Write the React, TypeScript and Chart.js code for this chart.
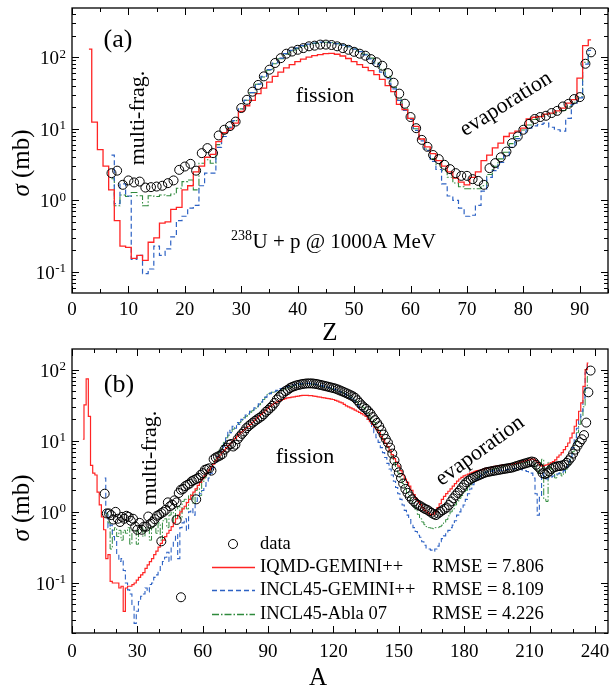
import React, { useEffect, useRef } from 'react';
import { Chart, registerables } from 'chart.js';

Chart.register(...registerables);

const SERIF = '"Liberation Serif", "Times New Roman", serif';
const RED = '#ff2424';
const BLUE = '#2d62c4';
const GREEN = '#2f8a3c';

// ---------------- Panel (a): cross section vs Z ----------------
const Z_DATA_START = 7;
const zData = [
  2.4, 2.6, 1.65, 1.9, 1.78, 1.83, 1.51, 1.53, 1.56, 1.6,
  1.74, 1.9, 2.67, 2.97, 3.24, 2.6, 4.57, 5.37, 4.57, 8.07,
  9.7, 10.9, 12.6, 19.5, 25.4, 33, 41, 54, 67, 83,
  97, 112, 120, 127, 134, 142, 145, 150, 150, 148,
  142, 134, 127, 119, 112, 105, 94, 85, 76, 60,
  44, 31, 22.4, 14.6, 10.2, 7.0, 5.6, 4.3, 3.77, 3.14,
  2.73, 2.4, 2.2, 2.2, 1.98, 1.87, 1.65, 2.82, 3.31, 4.0,
  4.8, 6.3, 7.8, 9.7, 11.7, 13.7, 14.6, 15.2, 16.6, 17.8,
  20.5, 22.3, 26, 27.7, 81, 117,
];
const Z_IQMD_START = 3;
const zIqmd = [
  130, 12.4, 5.1, 3.0, 1.4, 0.52, 0.23, 0.22, 0.155, 0.17,
  0.145, 0.26, 0.3, 0.48, 0.5, 0.75, 0.8, 1.4, 1.6, 2.5,
  3.0, 4.0, 4.4, 6.6, 8.8, 10, 12, 17.5, 21, 25,
  31, 37, 45, 54, 62, 71, 79, 87, 94, 100,
  105, 109, 112, 113, 110, 104, 96, 87, 79, 72,
  65, 57, 49, 40, 33, 22, 18.5, 14, 10.8, 7.2,
  5.6, 4.5, 3.6, 3.0, 2.5, 2.05, 1.8, 1.65, 2.1, 2.5,
  3.6, 4.3, 5.4, 6.3, 7.8, 8.7, 9.3, 10.2, 13.7, 14.5,
  14.8, 16, 16.5, 17.8, 19.4, 22.8, 25.5, 51, 145, 175,
];
const Z_INCLG_START = 7;
const zInclGemini = [
  4.3, 0.9, 1.7, 1.15, 0.15, 0.17, 0.095, 0.11, 0.23, 0.17,
  0.21, 0.31, 0.52, 0.6, 0.78, 0.85, 1.6, 2.4, 2.4, 5.5,
  7.8, 10.5, 13, 19, 25, 32, 42, 54, 67, 83,
  97, 112, 125, 135, 145, 152, 158, 162, 163, 160,
  155, 148, 140, 130, 120, 108, 95, 80, 62, 50,
  36, 25, 18, 13.5, 9.5, 6.8, 5.0, 3.5, 2.7, 1.7,
  1.15, 1.0, 0.78, 0.6, 0.62, 0.85, 1.35, 2.1, 2.6, 3.4,
  4.2, 5.5, 7.3, 9.0, 10.2, 11, 11.5, 12, 10.5, 9.7,
  9.3, 14, 22, 27, 80, 125,
];
const Z_ABLA_START = 7;
const zInclAbla = [
  2.0, 0.84, 1.19, 1.13, 1.29, 1.16, 0.84, 1.16, 1.13, 1.19,
  1.16, 1.23, 1.48, 1.83, 1.93, 1.4, 3.3, 3.7, 3.3, 6.0,
  8.5, 10.5, 13, 19, 25, 32, 42, 53, 66, 81,
  95, 110, 122, 132, 142, 150, 156, 160, 162, 160,
  155, 148, 140, 131, 121, 110, 97, 83, 68, 54,
  38, 26, 19, 14, 10, 7.2, 5.2, 3.8, 3.2, 2.6,
  2.1, 1.75, 1.55, 1.45, 1.45, 1.45, 1.6, 2.3, 3.0, 3.8,
  4.7, 6.2, 7.8, 9.6, 11.3, 13.5, 15, 15.8, 16.3, 17,
  18, 20.5, 23.5, 28, 85, 110,
];

// ---------------- Panel (b): cross section vs A ----------------
const A_DATA_START = 15;
const aData = [
  1.8, 0.95, 0.95, 0.9, 0.78, 1.0, 0.8, 0.72, 0.85, 0.8,
  0.88, 0.85, 0.75, 0.8, 0.62, 0.56, 0.7, 0.56, 0.62, 0.62,
  0.86, 0.68, 0.72, 0.79, 0.88, 0.91, 0.96, 1.0, 1.07, 1.36,
  1.2, 1.26, 1.45, 1.36, 1.84, 2.05, 2.1, 2.3, 2.4, 2.5,
  2.7, 2.8, 2.9, 3.0, 3.3, 3.5, 3.9, 4.0, 4.1, 3.8,
  5.5, 5.8, 6.0, 6.2, 6.5, 7.5, 8.0, 8.8, 9.0, 8.3,
  8.8, 10.5, 11.5, 12.5, 13.5, 15, 16, 17, 18, 19,
  20, 21, 22, 23.5, 25.5, 27, 29, 31, 34, 38,
  41, 44, 47, 50, 52, 55, 57, 58.5, 60, 61,
  62, 63, 63.5, 64, 64, 64, 63.5, 63, 62, 61,
  60, 59, 58, 57, 56, 55, 54, 52.5, 51, 49.5,
  48, 46.5, 45, 43.5, 42, 40, 37, 34, 31.5, 29.5,
  28, 26, 24, 21.5, 19.5, 17.8, 16, 14, 12.2, 10.6,
  9.4, 8.0, 6.6, 5.3, 4.3, 3.6, 3.0, 2.5, 2.1, 1.85,
  1.65, 1.5, 1.4, 1.3, 1.25, 1.2, 1.15, 1.1, 1.07, 1.02,
  0.97, 0.93, 0.9, 0.95, 1.0, 1.05, 1.1, 1.15, 1.25, 1.4,
  1.55, 1.7, 1.85, 2.0, 2.2, 2.4, 2.6, 2.75, 2.9, 3.0,
  3.1, 3.2, 3.3, 3.4, 3.5, 3.6, 3.65, 3.7, 3.75, 3.8,
  3.85, 3.9, 3.95, 4.0, 4.05, 4.1, 4.15, 4.2, 4.3, 4.4,
  4.5, 4.6, 4.7, 4.8, 4.9, 5.0, 5.1, 5.0, 4.6, 4.3,
  4.0, 3.5, 3.4, 3.5, 3.7, 4.0, 4.2, 4.3, 4.4, 4.4,
  4.5, 4.6, 4.9, 5.3, 5.8, 6.6, 7.5, 8.5, 9.5, 10.5,
  12, 18, 48, 97,
];
const aOutlierA = [41, 48, 50, 57];
const aOutlierS = [0.385, 0.77, 0.063, 1.5];

const A_IQMD_START = 5;
const aIqmd = [
  10.5, 32, 74, 22, 4.5, 3.5, 3.3, 1.9, 1.25, 0.85,
  0.56, 0.22, 0.25, 0.105, 0.1, 0.1, 0.1, 0.085, 0.09, 0.04,
  0.085, 0.09, 0.09, 0.095, 0.1, 0.11, 0.12, 0.13, 0.14, 0.16,
  0.18, 0.2, 0.22, 0.25, 0.28, 0.32, 0.36, 0.4, 0.45, 0.5,
  0.55, 0.62, 0.7, 0.8, 0.9, 1.0, 1.1, 1.2, 1.35, 1.5,
  1.7, 1.9, 2.1, 2.35, 2.6, 2.9, 3.2, 3.5, 3.9, 4.3,
  4.7, 5.2, 5.8, 6.3, 6.9, 7.4, 8.0, 8.6, 9.3, 10,
  10.8, 11.6, 12.5, 13.3, 14.2, 15, 16, 17, 18.2, 19.5,
  21, 22.3, 23.5, 25, 27, 29, 30.5, 32, 33.5, 35,
  36, 37, 38, 39, 40, 40.5, 41, 41.5, 42, 42.5,
  43, 43.5, 43.5, 43.5, 43, 43, 42.5, 42, 41.5, 41,
  40.5, 40, 39.5, 39, 38.5, 38, 37, 36, 35, 34,
  32.5, 31, 30, 29, 28, 27, 26, 25, 24, 23,
  22, 20, 18.5, 17, 15.5, 14.3, 13, 11.5, 10.3, 9.2,
  8.3, 7.3, 6.4, 5.6, 5.0, 4.4, 3.8, 3.3, 2.9, 2.6,
  2.3, 2.0, 1.75, 1.55, 1.4, 1.27, 1.15, 1.05, 0.98, 0.93,
  0.91, 0.93, 1.0, 1.15, 1.3, 1.5, 1.65, 1.8, 1.95, 2.1,
  2.3, 2.5, 2.7, 2.9, 3.05, 3.2, 3.3, 3.4, 3.5, 3.6,
  3.7, 3.8, 3.85, 3.9, 4.0, 4.1, 4.15, 4.2, 4.3, 4.35,
  4.4, 4.45, 4.5, 4.55, 4.6, 4.6, 4.65, 4.7, 4.75, 4.8,
  4.9, 5.0, 5.1, 5.2, 5.3, 5.4, 5.5, 5.5, 5.2, 4.9,
  4.5, 4.4, 4.5, 4.6, 4.7, 4.9, 5.1, 5.4, 5.9, 6.3,
  6.8, 7.5, 8.3, 9.3, 11, 12.8, 16, 19.7, 26, 34,
  58, 100, 124,
];
const A_INCLG_START = 15;
const aInclGemini = [
  3.0, 0.9, 0.6, 0.65, 0.45, 0.4, 0.25, 0.2, 0.22, 0.15,
  0.1, 0.08, 0.07, 0.05, 0.027, 0.04, 0.055, 0.065, 0.07, 0.085,
  0.075, 0.095, 0.1, 0.12, 0.13, 0.15, 0.17, 0.2, 0.23, 0.27,
  0.2, 0.33, 0.4, 0.48, 0.22, 0.6, 0.7, 0.8, 0.55, 1.0,
  1.1, 0.9, 1.4, 1.6, 1.8, 2.0, 2.3, 2.7, 3.0, 3.5,
  4.2, 5.0, 6.0, 7.0, 8.0, 9.5, 11, 14, 13, 16,
  15, 18, 17, 20, 21, 23, 24, 26, 27, 29,
  30, 33, 35, 38, 41, 45, 46, 48, 49, 51,
  52, 54, 55, 57, 58, 59, 60, 61, 62, 62.5,
  63, 63.5, 64, 64, 64, 63.5, 63, 62, 61, 60,
  59, 58, 57, 56, 55, 53.5, 52, 50.5, 49, 47.5,
  46, 44, 42, 40, 37.5, 35, 32, 29, 27, 25,
  23, 20, 17.5, 15, 13, 11, 9.5, 8, 6.8, 5.8,
  4.8, 4.0, 3.3, 2.7, 2.2, 1.8, 1.5, 1.25, 1.05, 0.9,
  0.78, 0.68, 0.6, 0.53, 0.47, 0.44, 0.38, 0.34, 0.31, 0.3,
  0.29, 0.28, 0.3, 0.33, 0.38, 0.42, 0.46, 0.5, 0.55, 0.6,
  0.65, 0.75, 0.9, 1.0, 1.1, 1.25, 1.5, 1.8, 2.1, 2.4,
  2.7, 2.9, 3.1, 3.3, 3.5, 3.6, 3.65, 3.7, 3.75, 3.8,
  3.8, 3.85, 3.85, 3.9, 3.9, 3.95, 4.0, 4.0, 4.05, 4.1,
  4.1, 4.0, 3.9, 3.8, 3.7, 3.6, 3.5, 3.0, 1.8, 0.9,
  1.6, 3.5, 3.2, 2.9, 3.0, 3.1, 3.2, 3.3, 3.4, 3.5,
  3.6, 3.8, 4.2, 5.0, 6.0, 8.0, 11, 15, 20, 26,
  40, 90, 125,
];
const A_ABLA_START = 15;
const aInclAbla = [
  1.0, 0.95, 0.7, 0.3, 0.55, 0.6, 0.45, 0.55, 0.4, 0.55,
  0.5, 0.6, 0.35, 0.55, 0.55, 0.35, 0.55, 0.6, 0.45, 0.6,
  0.6, 0.4, 0.6, 0.65, 0.5, 0.7, 0.4, 0.75, 0.8, 0.6,
  0.9, 1.0, 0.7, 1.1, 1.2, 0.8, 1.4, 1.5, 1.1, 1.7,
  1.8, 1.3, 2.0, 2.2, 1.7, 2.6, 3.0, 3.3, 3.8, 4.3,
  4.9, 5.5, 6.2, 7.5, 8.5, 9.5, 11, 12, 13, 14.5,
  15.5, 17, 18, 19.5, 21, 22, 23.5, 25, 26.5, 28,
  30, 32, 35, 38, 41, 45, 47, 48, 48, 49,
  50, 51, 52, 54, 55, 57, 58, 59, 60, 61,
  62, 62.5, 63, 63, 63, 62.5, 62, 61, 60, 59,
  58, 57, 56, 55, 54, 53, 52, 51, 49.5, 48,
  46.5, 45, 43, 41, 39, 37, 35, 33, 31, 29,
  27, 24.5, 22, 20, 18, 16, 14, 12.3, 10.7, 9.3,
  8, 6.8, 5.8, 4.9, 4.1, 3.5, 3.0, 2.5, 2.1, 1.8,
  1.6, 1.4, 1.2, 1.05, 0.92, 0.8, 0.72, 0.66, 0.62, 0.6,
  0.59, 0.58, 0.6, 0.6, 0.62, 0.65, 0.7, 0.78, 0.88, 1.0,
  1.1, 1.25, 1.4, 1.55, 1.7, 1.85, 2.0, 2.2, 2.4, 2.6,
  2.8, 3.0, 3.2, 3.4, 3.5, 3.6, 3.7, 3.8, 3.9, 4.0,
  4.1, 4.2, 4.3, 4.4, 4.5, 4.5, 4.6, 4.6, 4.7, 4.7,
  4.8, 4.8, 4.9, 4.9, 5.0, 5.0, 5.0, 4.9, 4.0, 3.5,
  4.5, 5.5, 1.5, 1.4, 5.0, 4.0, 3.5, 3.0, 3.3, 3.5,
  3.2, 3.5, 4.0, 4.5, 5.5, 7, 9.5, 13, 17, 22,
  30, 55, 80,
];

// ---------------- Axis ticks & text ----------------
const zTickLabels = [0, 10, 20, 30, 40, 50, 60, 70, 80, 90];
const aTickLabels = [0, 30, 60, 90, 120, 150, 180, 210, 240];
const legendLabels = ['data', 'IQMD-GEMINI++', 'INCL45-GEMINI++', 'INCL45-Abla 07'];
const rmseLabels = ['', 'RMSE = 7.806', 'RMSE = 8.109', 'RMSE = 4.226'];

const toPoints = (start: number, values: number[]) => values.map((v, i) => ({ x: start + i, y: v }));

function stepSet(label: string, pts: any[], color: string, dash: number[], width: number) {
  return {
    label, data: pts, borderColor: color, borderWidth: width, borderDash: dash,
    stepped: 'middle', pointRadius: 0, pointHoverRadius: 0, fill: false, tension: 0,
  };
}
function dotSet(label: string, pts: any[]) {
  return {
    label, data: pts, showLine: false, pointStyle: 'circle', pointRadius: 4.5, pointHoverRadius: 4.5,
    pointBorderWidth: 1, pointBorderColor: '#000', pointBackgroundColor: 'rgba(255,255,255,0)',
    borderColor: '#000', backgroundColor: 'rgba(255,255,255,0)',
  };
}

function rotText(ctx: any, txt: string, cx: number, cy: number, deg: number, size: number) {
  ctx.save();
  ctx.translate(cx, cy);
  ctx.rotate((deg * Math.PI) / 180);
  ctx.font = `${size}px ${SERIF}`;
  ctx.textAlign = 'center';
  ctx.textBaseline = 'middle';
  ctx.fillText(txt, 0, 0);
  ctx.restore();
}

function makeDecor(spec: any) {
  return {
    id: 'decor' + spec.id,
    afterDraw(chart: any) {
      const ctx = chart.ctx;
      const { left, right, top, bottom } = chart.chartArea;
      const xs = chart.scales.x;
      const ys = chart.scales.y;
      ctx.save();
      ctx.fillStyle = '#000';
      ctx.strokeStyle = '#000';
      ctx.setLineDash([]);
      // frame
      ctx.lineWidth = 1.3;
      ctx.strokeRect(left, top, right - left, bottom - top);
      // ticks
      ctx.lineWidth = 1;
      ctx.beginPath();
      const n = Math.round(spec.xMax / spec.xMinor);
      for (let i = 0; i <= n; i++) {
        const v = i * spec.xMinor;
        if (v > xs.max) break;
        const px = Math.round(xs.getPixelForValue(v)) + 0.5;
        const len = v % spec.xMajor === 0 ? 7 : 4;
        ctx.moveTo(px, bottom); ctx.lineTo(px, bottom - len);
        ctx.moveTo(px, top); ctx.lineTo(px, top + len);
      }
      for (let e = -3; e <= 3; e++) {
        for (let m = 1; m <= 9; m++) {
          const v = m * Math.pow(10, e);
          if (v < ys.min || v > ys.max) continue;
          const py = Math.round(ys.getPixelForValue(v)) + 0.5;
          const len = m === 1 ? 7 : 4;
          ctx.moveTo(left, py); ctx.lineTo(left + len, py);
          ctx.moveTo(right, py); ctx.lineTo(right - len, py);
        }
      }
      ctx.stroke();
      // x tick labels
      ctx.font = `19px ${SERIF}`;
      ctx.textAlign = 'center';
      ctx.textBaseline = 'alphabetic';
      spec.xLabels.forEach((v: number) => {
        ctx.fillText(String(v), xs.getPixelForValue(v), spec.labelBaseline);
      });
      // y tick labels 10^n
      const e0 = Math.ceil(Math.log10(ys.min));
      const e1 = Math.floor(Math.log10(ys.max));
      for (let e = e0; e <= e1; e++) {
        const py = ys.getPixelForValue(Math.pow(10, e));
        const sup = String(e);
        ctx.font = `13px ${SERIF}`;
        const ws = ctx.measureText(sup).width;
        ctx.textAlign = 'left';
        ctx.fillText(sup, 66 - ws, py + 0.5);
        ctx.font = `19px ${SERIF}`;
        ctx.textAlign = 'right';
        ctx.fillText('10', 66 - ws - 0.5, py + 7);
      }
      // axis titles
      ctx.font = `25px ${SERIF}`;
      ctx.textAlign = 'center';
      ctx.fillText(spec.xTitle, spec.xTitleX, spec.xTitleBaseline);
      ctx.save();
      ctx.translate(22, 163);
      ctx.rotate(-Math.PI / 2);
      ctx.font = `italic 25px ${SERIF}`;
      const w1 = ctx.measureText('\u03c3').width;
      ctx.font = `25px ${SERIF}`;
      const w2 = ctx.measureText(' (mb)').width;
      const x0 = -(w1 + w2) / 2;
      ctx.textAlign = 'left';
      ctx.textBaseline = 'middle';
      ctx.font = `italic 25px ${SERIF}`;
      ctx.fillText('\u03c3', x0, 0);
      ctx.font = `25px ${SERIF}`;
      ctx.fillText(' (mb)', x0 + w1, 0);
      ctx.restore();
      spec.extra(ctx);
      ctx.restore();
    },
  };
}

function extraA(ctx: any) {
  ctx.fillStyle = '#000';
  ctx.font = `26px ${SERIF}`;
  ctx.textAlign = 'center';
  ctx.textBaseline = 'middle';
  ctx.fillText('(a)', 118, 40);
  rotText(ctx, 'multi-frag.', 138, 118, -90, 22);
  ctx.font = `22px ${SERIF}`;
  ctx.textAlign = 'center';
  ctx.textBaseline = 'alphabetic';
  ctx.fillText('fission', 325, 102);
  rotText(ctx, 'evaporation', 506, 104, -32, 22);
  ctx.textAlign = 'left';
  ctx.textBaseline = 'alphabetic';
  ctx.font = `14px ${SERIF}`;
  ctx.fillText('238', 231, 240);
  const w = ctx.measureText('238').width;
  ctx.font = `21px ${SERIF}`;
  ctx.fillText('U + p @ 1000A MeV', 231 + w + 0.5, 248);
}

function extraB(ctx: any) {
  ctx.fillStyle = '#000';
  ctx.font = `26px ${SERIF}`;
  ctx.textAlign = 'center';
  ctx.textBaseline = 'middle';
  ctx.fillText('(b)', 119, 40);
  rotText(ctx, 'multi-frag.', 150, 113, -90, 22);
  ctx.font = `22px ${SERIF}`;
  ctx.textAlign = 'center';
  ctx.textBaseline = 'alphabetic';
  ctx.fillText('fission', 305, 118);
  rotText(ctx, 'evaporation', 480, 106, -36, 22);
  // legend
  const rows = [199, 222, 245, 269];
  const styles = [null, { c: RED, d: [] }, { c: BLUE, d: [5, 3] }, { c: GREEN, d: [7, 2, 1.5, 2] }];
  ctx.lineWidth = 1;
  ctx.strokeStyle = '#000';
  ctx.beginPath();
  ctx.arc(233, rows[0], 4.5, 0, Math.PI * 2);
  ctx.stroke();
  for (let i = 1; i < 4; i++) {
    const s: any = styles[i];
    ctx.save();
    ctx.strokeStyle = s.c;
    ctx.lineWidth = 1.3;
    ctx.setLineDash(s.d);
    ctx.beginPath();
    ctx.moveTo(212, rows[i] + 0.5);
    ctx.lineTo(255, rows[i] + 0.5);
    ctx.stroke();
    ctx.restore();
  }
  ctx.font = `18.5px ${SERIF}`;
  ctx.textAlign = 'left';
  ctx.textBaseline = 'middle';
  ctx.fillStyle = '#000';
  legendLabels.forEach((t, i) => ctx.fillText(t, 260, rows[i]));
  rmseLabels.forEach((t, i) => { if (t) ctx.fillText(t, 432, rows[i]); });
}

function buildConfig(spec: any, datasets: any[], xAxisH: number, padTop: number) {
  return {
    type: 'line',
    data: { datasets },
    options: {
      animation: false,
      responsive: false,
      events: [],
      layout: { autoPadding: false, padding: { top: padTop, right: 6, left: 0, bottom: 0 } },
      plugins: { legend: { display: false }, tooltip: { enabled: false } },
      scales: {
        x: {
          type: 'linear', min: 0, max: spec.xMax,
          grid: { display: false }, border: { display: false },
          ticks: { display: false },
          afterFit: (s: any) => { s.height = xAxisH; },
        },
        y: {
          type: 'logarithmic', min: spec.yMin, max: spec.yMax,
          grid: { display: false }, border: { display: false },
          ticks: { display: false },
          afterFit: (s: any) => { s.width = 72; },
        },
      },
    },
    plugins: [makeDecor(spec)],
  };
}

const specA = {
  id: 'A', xMax: 95, yMin: 0.0508, yMax: 487, xMinor: 5, xMajor: 10, xLabels: zTickLabels,
  labelBaseline: 315, xTitle: 'Z', xTitleX: 330, xTitleBaseline: 340, extra: extraA,
};
const specB = {
  id: 'B', xMax: 246, yMin: 0.0198, yMax: 195, xMinor: 10, xMajor: 30, xLabels: aTickLabels,
  labelBaseline: 312, xTitle: 'A', xTitleX: 318, xTitleBaseline: 340, extra: extraB,
};

function configA() {
  return buildConfig(specA, [
    dotSet('data', toPoints(Z_DATA_START, zData)),
    stepSet('IQMD-GEMINI++', toPoints(Z_IQMD_START, zIqmd), RED, [], 1.3),
    stepSet('INCL45-GEMINI++', toPoints(Z_INCLG_START, zInclGemini), BLUE, [5, 3], 1.2),
    stepSet('INCL45-Abla 07', toPoints(Z_ABLA_START, zInclAbla), GREEN, [7, 2, 1.5, 2], 1.1),
  ], 52, 8);
}
function configB() {
  const outliers = aOutlierA.map((a, i) => ({ x: a, y: aOutlierS[i] }));
  return buildConfig(specB, [
    dotSet('data', toPoints(A_DATA_START, aData).concat(outliers)),
    stepSet('IQMD-GEMINI++', toPoints(A_IQMD_START, aIqmd), RED, [], 1.2),
    stepSet('INCL45-GEMINI++', toPoints(A_INCLG_START, aInclGemini), BLUE, [5, 3], 1.1),
    stepSet('INCL45-Abla 07', toPoints(A_ABLA_START, aInclAbla), GREEN, [7, 2, 1.5, 2], 1.0),
  ], 56, 4);
}

function Panel({ top, height, make }: any) {
  const ref = useRef<HTMLCanvasElement>(null);
  useEffect(() => {
    const chart = new Chart(ref.current as HTMLCanvasElement, make());
    return () => chart.destroy();
  }, []);
  return (
    <canvas
      ref={ref}
      width={614}
      height={height}
      style={{ position: 'absolute', left: 0, top, width: 614, height, display: 'block' }}
    />
  );
}

export default function App() {
  return (
    <div style={{ position: 'absolute', left: 0, top: 0, width: 614, height: 689, background: '#fff', overflow: 'hidden' }}>
      <Panel top={0} height={345} make={configA} />
      <Panel top={345} height={344} make={configB} />
    </div>
  );
}
